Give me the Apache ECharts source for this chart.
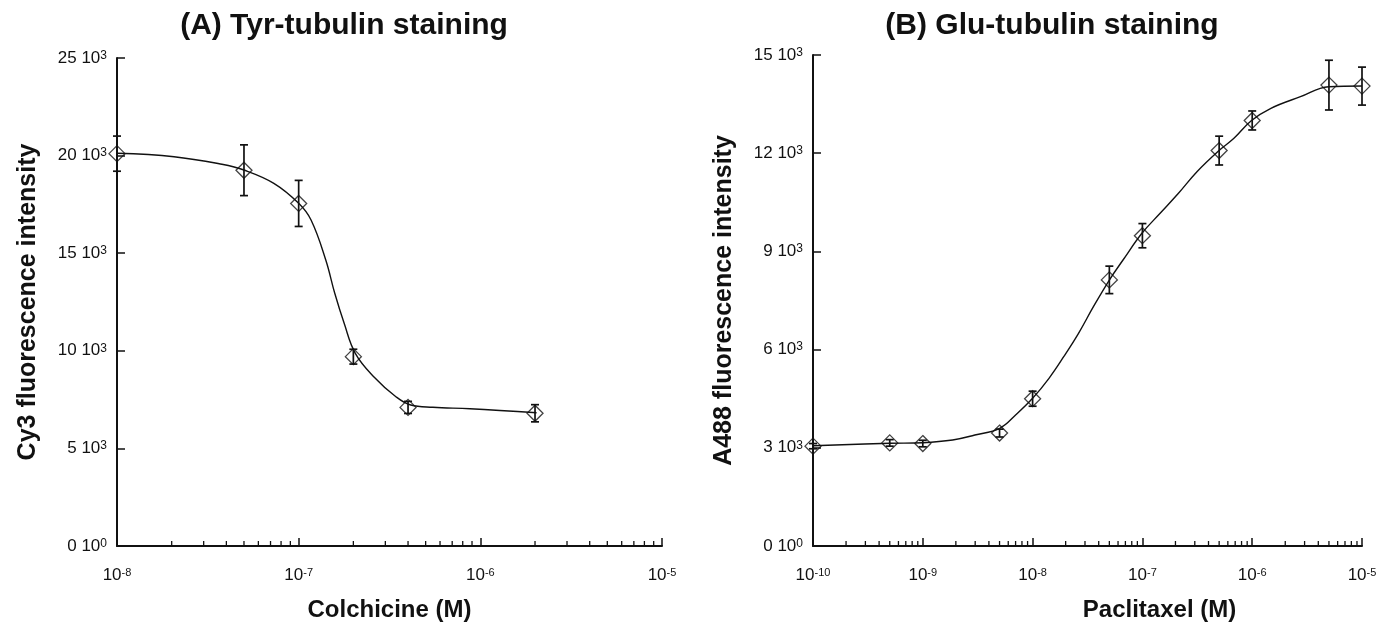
<!DOCTYPE html>
<html><head><meta charset="utf-8">
<script src="https://cdn.jsdelivr.net/npm/echarts@6/dist/echarts.min.js"></script>
<style>html,body{margin:0;padding:0;background:#fff}#c{width:1378px;height:623px}</style>
</head><body><div id="c"></div>
<script>
// ---- Panel A: Tyr-tubulin vs colchicine ----
const colchicineConc = [1e-8, 5e-8, 1e-7, 2e-7, 4e-7, 2e-6];
const tyrMean = [20100, 19250, 17550, 9700, 7100, 6800];
const tyrErr  = [900, 1300, 1180, 380, 310, 440];
const tyrFitConc = [1e-8, 2.06e-8, 3.78e-8, 5e-8, 7.3e-8, 1e-7, 1.17e-7, 1.41e-7, 1.58e-7, 1.78e-7, 2.05e-7, 2.59e-7, 3.43e-7, 4.14e-7, 5.48e-7, 8.77e-7, 2.04e-6];
const tyrFit = [20118, 19944, 19555, 19262, 18581, 17557, 16701, 14652, 12946, 11409, 9872, 8673, 7649, 7223, 7106, 7034, 6829];

// ---- Panel B: Glu-tubulin vs paclitaxel ----
const paclitaxelConc = [1e-10, 5e-10, 1e-9, 5e-9, 1e-8, 5e-8, 1e-7, 5e-7, 1e-6, 5e-6, 1e-5];
const gluMean = [3050, 3150, 3130, 3450, 4500, 8130, 9480, 12080, 13000, 14080, 14050];
const gluErr  = [80, 100, 100, 120, 230, 420, 370, 440, 290, 760, 580];
const gluFitConc = [1e-10, 5e-10, 1e-9, 1.87e-9, 2.98e-9, 5.02e-9, 7.0e-9, 1e-8, 1.41e-8, 1.92e-8, 2.62e-8, 3.58e-8, 5e-8, 6.66e-8, 9.9e-8, 1.45e-7, 2.13e-7, 3.14e-7, 4.96e-7, 6.82e-7, 9.8e-7, 1.48e-6, 2.75e-6, 4.98e-6, 1e-5];
const gluFit = [3064, 3137, 3156, 3238, 3391, 3596, 4002, 4512, 5123, 5783, 6498, 7311, 8126, 8737, 9553, 10164, 10775, 11435, 12076, 12455, 12993, 13372, 13726, 14032, 14053];

// ---- tick labels ----
const yMantA = ['0', '5', '10', '15', '20', '25'];
const yExpA  = ['0', '3', '3', '3', '3', '3'];
const yMantB = ['0', '3', '6', '9', '12', '15'];
const yExpB  = ['0', '3', '3', '3', '3', '3'];
const xExpA = ['-8', '-7', '-6', '-5'];
const xExpB = ['-10', '-9', '-8', '-7', '-6', '-5'];

const FONT = '"Liberation Sans", Arial, sans-serif';
const INK = '#111';

function minorTicks(lo, hi) {
  const out = [];
  for (let e = lo; e < hi; e++) for (let m = 2; m <= 9; m++) out.push([m * Math.pow(10, e), 0]);
  return out;
}

const richX = {
  b: {fontSize: 17, fontFamily: FONT, color: INK},
  s: {fontSize: 11, fontFamily: FONT, color: INK, verticalAlign: 'top', lineHeight: 10}
};
const richY = {
  b: {fontSize: 17, fontFamily: FONT, color: INK},
  s: {fontSize: 12, fontFamily: FONT, color: INK, verticalAlign: 'top', lineHeight: 10}
};

function xAxis(gi, min, max, exps, expMin, name, pad) {
  return {
    type: 'log', logBase: 10, gridIndex: gi, min: min, max: max,
    axisLine: {onZero: false, lineStyle: {color: INK, width: 2}},
    axisTick: {inside: true, length: 8, lineStyle: {color: INK, width: 1.5}},
    splitLine: {show: false},
    axisLabel: {margin: 21, rich: richX, formatter: v => {
      const e = Math.round(Math.log10(v));
      return '{b|10}{s|' + exps[e - expMin] + '}';
    }},
    name: name, nameLocation: 'middle', nameGap: 52,
    nameTextStyle: {fontFamily: FONT, fontWeight: 'bold', fontSize: 24, color: INK, padding: pad}
  };
}
function yAxis(gi, max, interval, mant, exps, name) {
  return {
    type: 'value', gridIndex: gi, min: 0, max: max, interval: interval,
    axisLine: {show: true, onZero: false, lineStyle: {color: INK, width: 2}},
    axisTick: {show: true, inside: true, length: 8, lineStyle: {color: INK, width: 1.5}},
    splitLine: {show: false},
    axisLabel: {margin: 10, rich: richY, formatter: v => {
      const i = Math.round(v / interval);
      return '{b|' + mant[i] + ' 10}{s|' + exps[i] + '}';
    }},
    name: name, nameLocation: 'middle', nameGap: 76,
    nameTextStyle: {fontFamily: FONT, fontWeight: 'bold', fontSize: 25, color: INK}
  };
}

function errSeries(idx, conc, mean, err) {
  return {
    type: 'custom', xAxisIndex: idx, yAxisIndex: idx, silent: true, clip: false, z: 3,
    data: conc.map((c, i) => [c, mean[i] - err[i], mean[i] + err[i]]),
    encode: {x: 0, y: [1, 2]},
    renderItem: (params, api) => {
      const x = api.value(0);
      const lo = api.coord([x, api.value(1)]);
      const hi = api.coord([x, api.value(2)]);
      const w = 4, st = {stroke: INK, lineWidth: 1.7};
      return {type: 'group', children: [
        {type: 'line', shape: {x1: lo[0], y1: lo[1], x2: hi[0], y2: hi[1]}, style: st},
        {type: 'line', shape: {x1: lo[0] - w, y1: lo[1], x2: lo[0] + w, y2: lo[1]}, style: st},
        {type: 'line', shape: {x1: hi[0] - w, y1: hi[1], x2: hi[0] + w, y2: hi[1]}, style: st}
      ]};
    }
  };
}
function minorSeries(idx, lo, hi) {
  return {
    type: 'custom', xAxisIndex: idx, yAxisIndex: idx, silent: true, clip: false, z: 1,
    data: minorTicks(lo, hi), encode: {x: 0, y: 1},
    renderItem: (params, api) => {
      const p = api.coord([api.value(0), 0]);
      return {type: 'line', shape: {x1: p[0], y1: p[1], x2: p[0], y2: p[1] - 5}, style: {stroke: INK, lineWidth: 1.3}};
    }
  };
}
function fitSeries(idx, conc, vals) {
  return {type: 'line', xAxisIndex: idx, yAxisIndex: idx, smooth: 0.4, symbol: 'none', silent: true, z: 2,
    lineStyle: {color: INK, width: 1.4}, data: conc.map((c, i) => [c, vals[i]])};
}
function pointSeries(idx, conc, vals) {
  return {type: 'scatter', xAxisIndex: idx, yAxisIndex: idx, symbol: 'diamond', symbolSize: [16, 16], z: 4, silent: true,
    itemStyle: {color: 'rgba(255,255,255,0)', borderColor: INK, borderWidth: 1.3},
    data: conc.map((c, i) => [c, vals[i]])};
}

const chart = echarts.init(document.getElementById('c'), null, {renderer: 'canvas'});
chart.setOption({
  animation: false,
  backgroundColor: '#fff',
  title: [
    {text: '(A) Tyr-tubulin staining', left: 339, top: 6, textAlign: 'center',
     textStyle: {fontFamily: FONT, fontWeight: 'bold', fontSize: 30, color: INK}},
    {text: '(B) Glu-tubulin staining', left: 1047, top: 6, textAlign: 'center',
     textStyle: {fontFamily: FONT, fontWeight: 'bold', fontSize: 30, color: INK}}
  ],
  grid: [
    {left: 117, top: 58, width: 545, height: 488, containLabel: false, outerBoundsMode: 'none'},
    {left: 813, top: 55, width: 549, height: 491, containLabel: false, outerBoundsMode: 'none'}
  ],
  xAxis: [
    xAxis(0, 1e-8, 1e-5, xExpA, -8, 'Colchicine (M)', [0, 0, 0, 0]),
    xAxis(1, 1e-10, 1e-5, xExpB, -10, 'Paclitaxel (M)', [0, 0, 0, 144])
  ],
  yAxis: [
    yAxis(0, 25000, 5000, yMantA, yExpA, 'Cy3 fluorescence intensity'),
    yAxis(1, 15000, 3000, yMantB, yExpB, 'A488 fluorescence intensity')
  ],
  series: [
    minorSeries(0, -8, -5), fitSeries(0, tyrFitConc, tyrFit), errSeries(0, colchicineConc, tyrMean, tyrErr), pointSeries(0, colchicineConc, tyrMean),
    minorSeries(1, -10, -5), fitSeries(1, gluFitConc, gluFit), errSeries(1, paclitaxelConc, gluMean, gluErr), pointSeries(1, paclitaxelConc, gluMean)
  ]
});
</script></body></html>
